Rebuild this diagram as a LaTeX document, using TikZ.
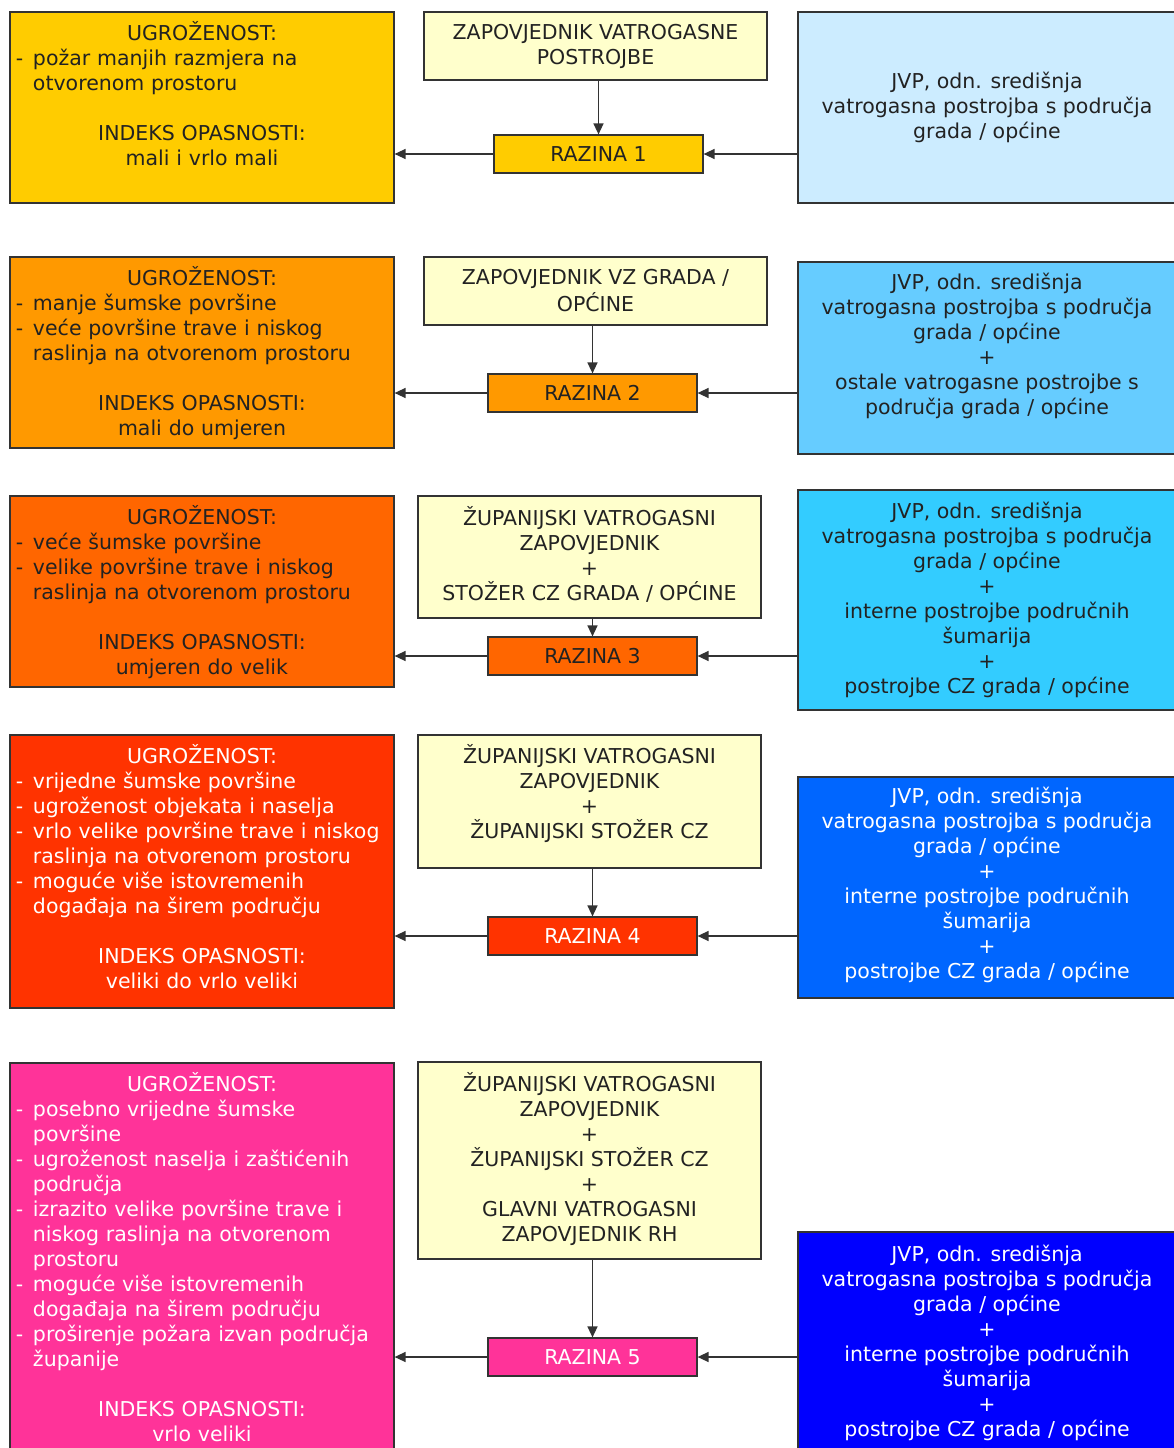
\documentclass[tikz,border=0pt]{standalone}
\usepackage{fontspec}
\setmainfont{DejaVu Sans}
\usetikzlibrary{arrows.meta}
\definecolor{cA}{HTML}{FFCC00}
\definecolor{cB}{HTML}{FF9900}
\definecolor{cC}{HTML}{FF6600}
\definecolor{cD}{HTML}{FF3300}
\definecolor{cE}{HTML}{FF3399}
\definecolor{cT}{HTML}{FFFFCC}
\definecolor{rA}{HTML}{CCECFF}
\definecolor{rB}{HTML}{66CCFF}
\definecolor{rC}{HTML}{33CCFF}
\definecolor{rD}{HTML}{0066FF}
\definecolor{rE}{HTML}{0000FF}
\definecolor{ink}{HTML}{222222}
\definecolor{edge}{HTML}{333333}
\newcommand\fsz{\fontsize{20.5}{25}\selectfont}
\newcommand\hd[1]{\makebox[\hsize][c]{\strut #1}}
\newcommand\bl[1]{\strut\makebox[17pt][l]{-}#1}
\newcommand\cn[1]{\strut\hspace*{17pt}#1}
\newcommand\bx[6]{\node[box,#6,minimum width={#4-#2},minimum height={#5-#3}] (#1) at ({(#2+#4)/2},{(#3+#5)/2}) {};}
\begin{document}
\begin{tikzpicture}[x=1pt,y=-1pt,
  box/.style={draw=edge,line width=1.2pt,rectangle,inner sep=0pt},
  lvl/.style={draw=edge,line width=1.2pt,rectangle,inner sep=0pt,font=\fsz,text=ink,minimum width=209pt,minimum height=38pt},
  ltxt/.style={anchor=north,text width=372pt,inner sep=0pt,align=left,font=\fsz,text=ink},
  ctxt/.style={anchor=north,inner sep=0pt,align=center,font=\fsz,text=ink},
  arr/.style={draw=edge,line width=1.4pt,-{Triangle[length=11pt,width=10pt]}}]
\useasboundingbox (0,0) rectangle (1173,1448);
\fill[white] (0,0) rectangle (1173,1448);

% ---------- row 1
\bx{L1}{10}{12}{394}{203}{fill=cA}
\bx{T1}{424}{12}{767}{80}{fill=cT}
\bx{R1}{798}{12}{1180}{203}{fill=rA}
\node[lvl,fill=cA] (Z1) at (598.5,154) {RAZINA 1};
\node[ltxt] at ([yshift=-10pt]L1.north) {\hd{UGROŽENOST:}\\
\bl{požar manjih razmjera na}\\
\cn{otvorenom prostoru}\\
\strut\\
\hd{INDEKS OPASNOSTI:}\\
\hd{mali i vrlo mali}};
\node[ctxt] at ([yshift=-10pt]T1.north) {\strut ZAPOVJEDNIK VATROGASNE\\POSTROJBE};
\node[ctxt] at ([yshift=-59pt]R1.north -| 987,0) {\strut JVP, odn. središnja\\vatrogasna postrojba s područja\\grada / općine};

% ---------- row 2
\bx{L2}{10}{257}{394}{448}{fill=cB}
\bx{T2}{424}{257}{767}{325}{fill=cT}
\bx{R2}{798}{262}{1180}{454}{fill=rB}
\node[lvl,fill=cB] (Z2) at (592.5,393) {RAZINA 2};
\node[ltxt] at ([yshift=-10pt]L2.north) {\hd{UGROŽENOST:}\\
\bl{manje šumske površine}\\
\bl{veće površine trave i niskog}\\
\cn{raslinja na otvorenom prostoru}\\
\strut\\
\hd{INDEKS OPASNOSTI:}\\
\hd{mali do umjeren}};
\node[ctxt] at ([yshift=-10pt]T2.north) {\strut ZAPOVJEDNIK VZ GRADA /\\OPĆINE};
\node[ctxt] at ([yshift=-10pt]R2.north -| 987,0) {\strut JVP, odn. središnja\\vatrogasna postrojba s područja\\grada / općine\\+\\ostale vatrogasne postrojbe s\\područja grada / općine};

% ---------- row 3
\bx{L3}{10}{496}{394}{687}{fill=cC}
\bx{T3}{418}{496}{761}{618}{fill=cT}
\bx{R3}{798}{490}{1180}{710}{fill=rC}
\node[lvl,fill=cC] (Z3) at (592.5,656) {RAZINA 3};
\node[ltxt] at ([yshift=-10pt]L3.north) {\hd{UGROŽENOST:}\\
\bl{veće šumske površine}\\
\bl{velike površine trave i niskog}\\
\cn{raslinja na otvorenom prostoru}\\
\strut\\
\hd{INDEKS OPASNOSTI:}\\
\hd{umjeren do velik}};
\node[ctxt] at ([yshift=-11pt]T3.north) {\strut ŽUPANIJSKI VATROGASNI\\ZAPOVJEDNIK\\+\\STOŽER CZ GRADA / OPĆINE};
\node[ctxt] at ([yshift=-11pt]R3.north -| 987,0) {\strut JVP, odn. središnja\\vatrogasna postrojba s područja\\grada / općine\\+\\interne postrojbe područnih\\šumarija\\+\\postrojbe CZ grada / općine};

% ---------- row 4
\bx{L4}{10}{735}{394}{1008}{fill=cD}
\bx{T4}{418}{735}{761}{868}{fill=cT}
\bx{R4}{798}{777}{1180}{998}{fill=rD}
\node[lvl,fill=cD,text=white] (Z4) at (592.5,936) {RAZINA 4};
\node[ltxt,text=white] at ([yshift=-10pt]L4.north) {\hd{UGROŽENOST:}\\
\bl{vrijedne šumske površine}\\
\bl{ugroženost objekata i naselja}\\
\bl{vrlo velike površine trave i niskog}\\
\cn{raslinja na otvorenom prostoru}\\
\bl{moguće više istovremenih}\\
\cn{događaja na širem području}\\
\strut\\
\hd{INDEKS OPASNOSTI:}\\
\hd{veliki do vrlo veliki}};
\node[ctxt] at ([yshift=-10pt]T4.north) {\strut ŽUPANIJSKI VATROGASNI\\ZAPOVJEDNIK\\+\\ŽUPANIJSKI STOŽER CZ};
\node[ctxt,text=white] at ([yshift=-9pt]R4.north -| 987,0) {\strut JVP, odn. središnja\\vatrogasna postrojba s područja\\grada / općine\\+\\interne postrojbe područnih\\šumarija\\+\\postrojbe CZ grada / općine};

% ---------- row 5
\bx{L5}{10}{1063}{394}{1460}{fill=cE}
\bx{T5}{418}{1062}{761}{1259}{fill=cT}
\bx{R5}{798}{1232}{1180}{1460}{fill=rE}
\node[lvl,fill=cE,text=white] (Z5) at (592.5,1357) {RAZINA 5};
\node[ltxt,text=white] at ([yshift=-10pt]L5.north) {\hd{UGROŽENOST:}\\
\bl{posebno vrijedne šumske}\\
\cn{površine}\\
\bl{ugroženost naselja i zaštićenih}\\
\cn{područja}\\
\bl{izrazito velike površine trave i}\\
\cn{niskog raslinja na otvorenom}\\
\cn{prostoru}\\
\bl{moguće više istovremenih}\\
\cn{događaja na širem području}\\
\bl{proširenje požara izvan područja}\\
\cn{županije}\\
\strut\\
\hd{INDEKS OPASNOSTI:}\\
\hd{vrlo veliki}};
\node[ctxt] at ([yshift=-11pt]T5.north) {\strut ŽUPANIJSKI VATROGASNI\\ZAPOVJEDNIK\\+\\ŽUPANIJSKI STOŽER CZ\\+\\GLAVNI VATROGASNI\\ZAPOVJEDNIK RH};
\node[ctxt,text=white] at ([yshift=-12pt]R5.north -| 987,0) {\strut JVP, odn. središnja\\vatrogasna postrojba s područja\\grada / općine\\+\\interne postrojbe područnih\\šumarija\\+\\postrojbe CZ grada / općine};

% ---------- connectors
\foreach \i in {1,...,5}{
  \draw[arr] (T\i.south -| Z\i.north) -- (Z\i.north);
  \draw[arr] (Z\i.east -| R\i.west) -- (Z\i.east);
  \draw[arr] (Z\i.west) -- (Z\i.west -| L\i.east);
}
\end{tikzpicture}
\end{document}
